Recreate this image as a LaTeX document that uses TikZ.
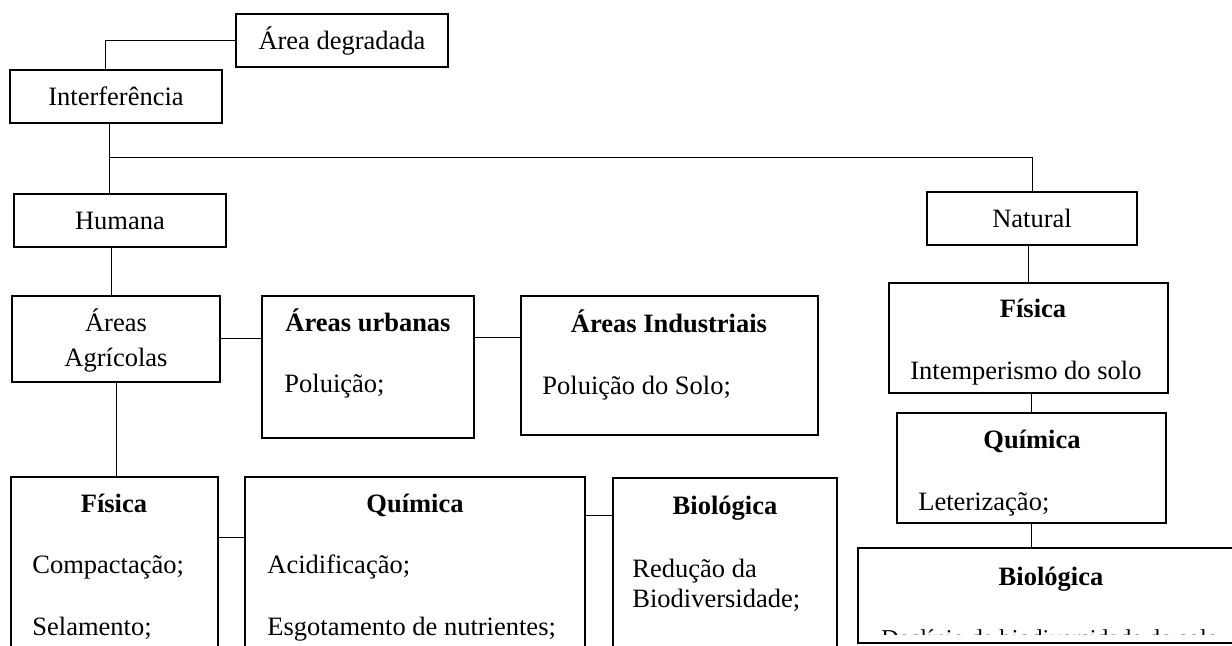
\documentclass[tikz,border=0pt]{standalone}
\usepackage{fontspec}
\setmainfont{Liberation Serif}
\usetikzlibrary{fit,calc}

\newcommand{\fonte}{\fontsize{13.25}{16}\selectfont}

\tikzset{
  caixa/.style={draw, line width=1pt, inner sep=0pt},
  liga/.style={line width=0.5pt},
  rotulo/.style={font=\fonte, inner sep=0pt},
  titulo/.style={font=\fonte\bfseries, inner sep=0pt, anchor=base},
  item/.style={font=\fonte, inner sep=0pt, anchor=base west}
}

\begin{document}
\begin{tikzpicture}[x=0.5pt, y=-0.5pt]
\useasboundingbox (0,0) rectangle (1232,646);

% caixas
\node[caixa, fit={(236,14) (448,67)}] (area) {};
\node[caixa, fit={(10,70) (222,123)}] (interf) {};
\node[caixa, fit={(14,194) (226,247)}] (humana) {};
\node[caixa, fit={(927,192) (1137,245)}] (natural) {};
\node[caixa, fit={(12,296) (220,382)}] (agric) {};
\node[caixa, fit={(262,296) (474,438)}] (urbanas) {};
\node[caixa, fit={(521,296) (818,435)}] (indust) {};
\node[caixa, fit={(889,283) (1168,393)}] (fisnat) {};
\node[caixa, fit={(897,413) (1166,523)}] (quinat) {};
\node[caixa, fit={(858,548) (1245,643)}] (bionat) {};
\node[caixa, fit={(11,477) (218,690)}] (fisica) {};
\node[caixa, fit={(245,477) (585,690)}] (quimica) {};
\node[caixa, fit={(613,478) (837,690)}] (bio) {};

% textos
\node[rotulo] (tarea) at (area.center) {Área degradada};
\node[rotulo] (tinterf) at (interf.center) {Interferência};
\node[rotulo] (thumana) at (humana.center) {Humana};
\node[rotulo] (tnatural) at (natural.center) {Natural};

\node[rotulo, anchor=base] (tagric1) at (116,332) {Áreas};
\node[rotulo, anchor=base] (tagric2) at (116,367) {Agrícolas};

\node[titulo] (turb) at (368,332) {Áreas urbanas};
\node[item] (iurb) at (284,393) {Poluição;};
\node[titulo] (tind) at (669,333) {Áreas Industriais};
\node[item] (iind) at (542,395) {Poluição do Solo;};

\node[titulo] (tfisnat) at (1033,318) {Física};
\node[item] (ifisnat) at (910,380) {Intemperismo do solo};
\node[titulo] (tquinat) at (1032,449) {Química};
\node[item] (iquinat) at (918,510) {Leterização;};
\node[titulo] (tbionat) at (1051,585) {Biológica};
\begin{scope}
\clip (858,548) rectangle (1232,634);
\node[item, font=\fontsize{12.1}{14}\selectfont] (ibionat) at (881,646) {Declínio da biodiversidade do solo};
\end{scope}

\node[titulo] (tfisica) at (114,513) {Física};
\node[item] (ifisica1) at (32,574) {Compactação;};
\node[item] (ifisica2) at (32,635) {Selamento;};
\node[titulo] (tquimica) at (415,513) {Química};
\node[item] (iquimica1) at (267,574) {Acidificação;};
\node[item] (iquimica2) at (267,635) {Esgotamento de nutrientes;};
\node[titulo] (tbio) at (725,515) {Biológica};
\node[item] (ibio1) at (632,577) {Redução da};
\node[item] (ibio2) at (632,607) {Biodiversidade;};

% ligacoes
\coordinate (ramo) at (109,158);
\draw[liga] (area.west) -| ($(interf.north)+(-11,0)$);
\draw[liga] ($(interf.south)+(-7,0)$) -- ($(humana.north)+(-11,0)$);
\draw[liga] (ramo) -| (natural.north);
\draw[liga] ($(humana.south)+(-9,0)$) -- ($(agric.north)+(-5,0)$);
\draw[liga] (agric.east) -- (agric.east -| urbanas.west);
\draw[liga] ($(urbanas.north east)+(0,43)$) -- ($(indust.north west)+(0,43)$);
\draw[liga] (agric.south) -- (agric.south |- fisica.north);
\draw[liga] ($(fisica.north east)+(0,62)$) -- ($(quimica.north west)+(0,62)$);
\draw[liga] ($(quimica.north east)+(0,40)$) -- ($(bio.north west)+(0,39)$);
\draw[liga] (fisnat.north |- natural.south) -- (fisnat.north);
\draw[liga] (quinat.north |- fisnat.south) -- (quinat.north);
\draw[liga] (quinat.south) -- (quinat.south |- bionat.north);

\end{tikzpicture}
\end{document}
